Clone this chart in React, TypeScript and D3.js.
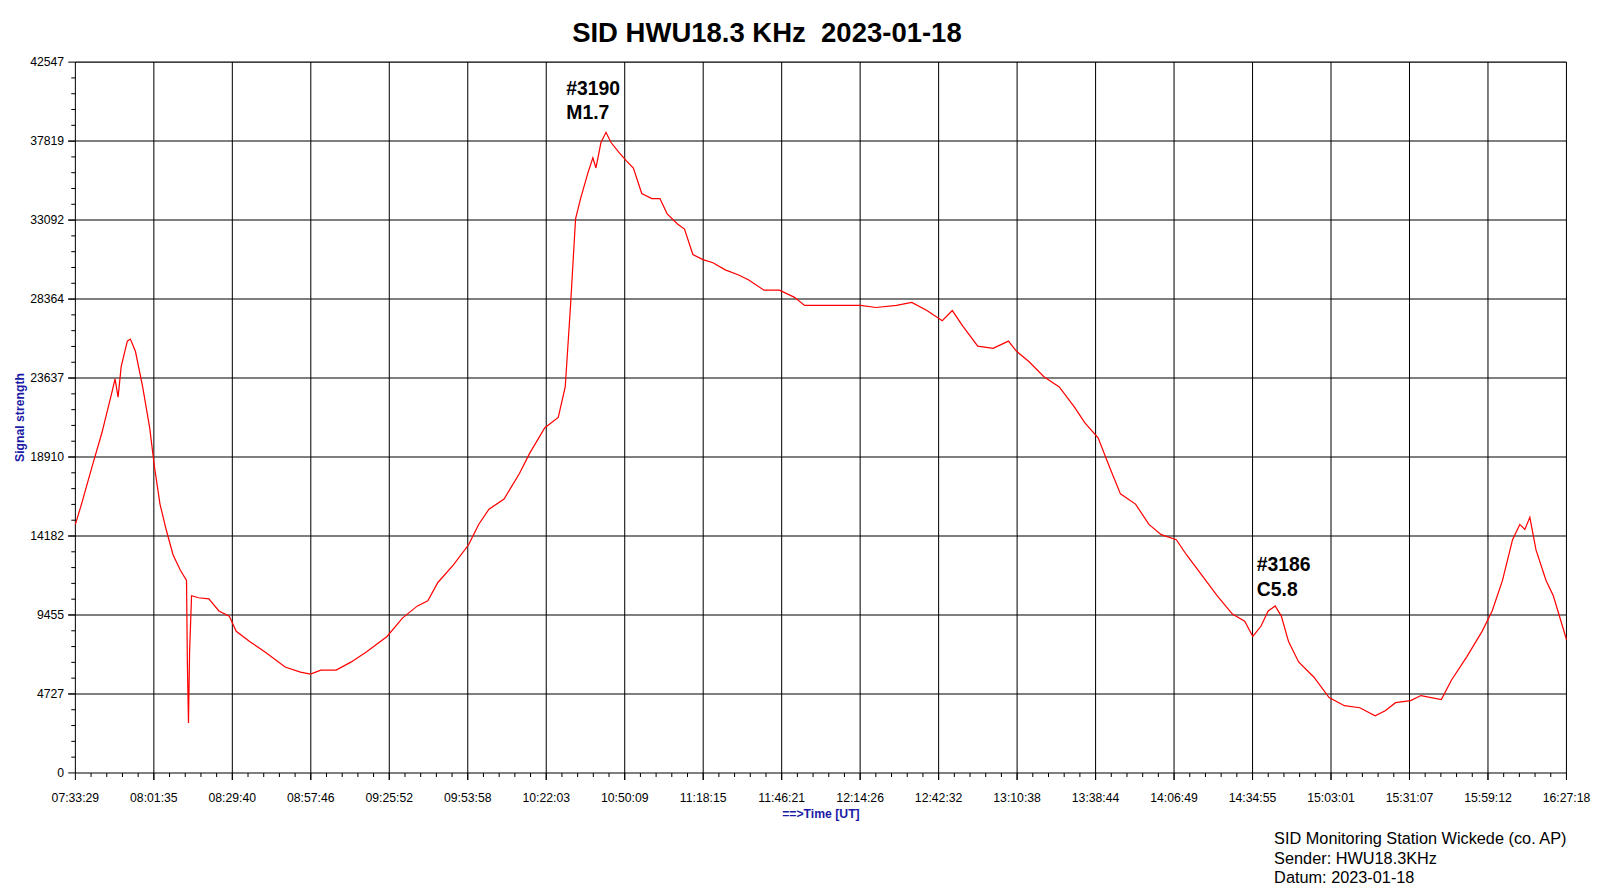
import { useRef, useEffect } from 'react';
import * as d3 from 'd3';

const WIDTH = 1597;
const HEIGHT = 888;
// layout measured in a 1568x872 frame, scaled up by the viewBox
const VB_W = 1568;
const VB_H = 872;
const PLOT = { left: 74, right: 1538, top: 61, bottom: 759 };

const timeLabels = [
  '07:33:29', '08:01:35', '08:29:40', '08:57:46', '09:25:52', '09:53:58', '10:22:03',
  '10:50:09', '11:18:15', '11:46:21', '12:14:26', '12:42:32', '13:10:38', '13:38:44',
  '14:06:49', '14:34:55', '15:03:01', '15:31:07', '15:59:12', '16:27:18',
];
const yTicks = [0, 4727, 9455, 14182, 18910, 23637, 28364, 33092, 37819, 42547];

// minutes since 07:33:29
const minutes = [
  0, 2.2, 5.8, 9.5, 13.1, 14.2, 15.3, 16.4, 18.6, 19.7, 21.5, 24.1, 26.6, 28.4, 30.3, 32.5,
  35.0, 37.6, 39.8, 40.1, 40.5, 40.9, 41.6, 44.1, 47.8, 51.4, 55.1, 57.6, 62.4, 67.8, 75.1,
  80.6, 84.2, 87.9, 93.4, 98.8, 104.3, 111.6, 117.1, 122.5, 126.2, 129.8, 135.3, 140.8,
  144.4, 148.1, 153.5, 159.0, 162.7, 168.1, 172.9, 175.4, 177.3, 179.1, 180.9, 183.5,
  185.3, 186.4, 188.2, 190.0, 191.8, 194.7, 197.3, 199.8, 202.8, 206.4, 209.3, 211.9,
  215.6, 218.1, 221.1, 224.7, 228.3, 232.7, 237.5, 241.1, 246.6, 252.1, 257.5, 261.1,
  268.4, 275.7, 281.2, 286.7, 294.0, 299.5, 304.9, 310.4, 314.0, 317.7, 323.1, 328.6,
  334.1, 337.0, 341.4, 346.8, 352.3, 357.8, 361.4, 366.2, 370.5, 374.2, 379.6, 384.4,
  388.8, 394.2, 397.9, 403.4, 408.8, 414.3, 418.7, 421.6, 424.5, 427.1, 429.6, 431.8,
  434.4, 438.0, 443.5, 448.9, 454.4, 459.9, 465.4, 469.0, 472.7, 478.1, 481.8, 489.1,
  492.7, 498.2, 503.7, 507.3, 511.0, 514.6, 517.2, 519.0, 520.8, 523.0, 526.6, 529.2, 533.9,
];
const signal = [
  14874, 16093, 18227, 20360, 22799, 23592, 22494, 24323, 25847, 25969, 25238, 23104, 20665,
  18227, 16093, 14569, 13045, 12131, 11521, 6645, 2987, 7254, 10607, 10485, 10424, 9693,
  9388, 8474, 7864, 7254, 6340, 6035, 5913, 6157, 6157, 6645, 7254, 8169, 9266, 9998, 10302,
  11400, 12436, 13655, 14874, 15789, 16398, 17922, 19141, 20665, 21275, 23104, 27981, 33162,
  34381, 35905, 36820, 36210, 37734, 38344, 37734, 37125, 36637, 36210, 34686, 34381, 34381,
  33467, 32857, 32552, 31028, 30723, 30540, 30113, 29808, 29504, 28894, 28894, 28468, 27981,
  27981, 27981, 27981, 27859, 27981, 28163, 27676, 27067, 27676, 26762, 25543, 25420, 25847,
  25238, 24628, 23714, 23104, 21885, 20970, 20056, 18227, 16703, 16093, 14874, 14265, 13960,
  13045, 11826, 10607, 9510, 9083, 8169, 8778, 9693, 9998, 9388, 7864, 6645, 5730, 4511,
  4023, 3901, 3414, 3718, 4206, 4328, 4633, 4389, 5547, 6949, 8474, 9693, 11521, 13960,
  14874, 14569, 15301, 13350, 11521, 10607, 7986,
];
const STEP = 533.9 / 19;

export default function App() {
  const svgRef = useRef<SVGSVGElement>(null);

  useEffect(() => {
    if (!svgRef.current) return;
    const svg = d3.select(svgRef.current);
    svg.selectAll('*').remove();
    const font = 'Liberation Sans, Arial, sans-serif';

    const x = d3.scaleLinear().domain([0, STEP * 19]).range([PLOT.left, PLOT.right]);
    const y = d3.scaleLinear().domain([0, 42547]).range([PLOT.bottom, PLOT.top]);

    // grid
    const g = svg.append('g');
    timeLabels.forEach((_, i) => {
      g.append('line').attr('x1', x(i * STEP)).attr('x2', x(i * STEP))
        .attr('y1', PLOT.top).attr('y2', PLOT.bottom).attr('stroke', '#000').attr('stroke-width', 1);
    });
    yTicks.forEach((v) => {
      g.append('line').attr('x1', PLOT.left).attr('x2', PLOT.right)
        .attr('y1', y(v)).attr('y2', y(v)).attr('stroke', '#000').attr('stroke-width', 1);
    });

    // minor ticks
    for (let i = 0; i < 19; i++) {
      for (let k = 0; k <= 5; k++) {
        const px = x((i + k / 5) * STEP);
        g.append('line').attr('x1', px).attr('x2', px).attr('y1', PLOT.bottom)
          .attr('y2', PLOT.bottom + (k === 0 || k === 5 ? 7 : 4)).attr('stroke', '#000');
      }
    }
    for (let i = 0; i < 9; i++) {
      for (let k = 0; k <= 5; k++) {
        const py = y(yTicks[i] + (k / 5) * (yTicks[i + 1] - yTicks[i]));
        g.append('line').attr('x1', PLOT.left - (k === 0 || k === 5 ? 7 : 4)).attr('x2', PLOT.left)
          .attr('y1', py).attr('y2', py).attr('stroke', '#000');
      }
    }

    timeLabels.forEach((t, i) => {
      g.append('text').attr('x', x(i * STEP)).attr('y', PLOT.bottom + 29)
        .attr('text-anchor', 'middle').attr('font-family', font).attr('font-size', 12).text(t);
    });
    yTicks.forEach((v) => {
      g.append('text').attr('x', PLOT.left - 11).attr('y', y(v) + 4)
        .attr('text-anchor', 'end').attr('font-family', font).attr('font-size', 12).text(v);
    });

    const line = d3.line<number>().x((_, i) => x(minutes[i])).y((d) => y(d));
    svg.append('path').datum(signal).attr('d', line).attr('fill', 'none')
      .attr('stroke', '#ff0000').attr('stroke-width', 1.2);

    svg.append('text').attr('x', 753).attr('y', 41).attr('text-anchor', 'middle')
      .attr('font-family', font).attr('font-size', 27).attr('font-weight', 'bold')
      .attr('xml:space', 'preserve').text('SID HWU18.3 KHz  2023-01-18');

    svg.append('text').attr('transform', 'translate(24,410) rotate(-90)').attr('text-anchor', 'middle')
      .attr('font-family', font).attr('font-size', 12).attr('font-weight', 'bold')
      .attr('fill', '#1a1aa6').text('Signal strength');
    svg.append('text').attr('x', 806).attr('y', 803).attr('text-anchor', 'middle')
      .attr('font-family', font).attr('font-size', 12).attr('font-weight', 'bold')
      .attr('fill', '#1a1aa6').text('==>Time [UT]');

    const notes = [
      { x: 556, y: 93, lines: ['#3190', 'M1.7'] },
      { x: 1234, y: 561, lines: ['#3186', 'C5.8'] },
    ];
    notes.forEach((n) => {
      n.lines.forEach((l, i) => {
        svg.append('text').attr('x', n.x).attr('y', n.y + i * 24).attr('font-family', font)
          .attr('font-size', 19).attr('font-weight', 'bold').text(l);
      });
    });

    ['SID Monitoring Station Wickede (co. AP)', 'Sender: HWU18.3KHz', 'Datum: 2023-01-18'].forEach((l, i) => {
      svg.append('text').attr('x', 1251).attr('y', 829 + i * 19).attr('font-family', font)
        .attr('font-size', 16).text(l);
    });
  }, []);

  return (
    <svg
      ref={svgRef}
      width={WIDTH}
      height={HEIGHT}
      viewBox={`0 0 ${VB_W} ${VB_H}`}
      preserveAspectRatio="none"
      style={{ position: 'fixed', left: 0, top: 0, background: '#fff' }}
    />
  );
}
